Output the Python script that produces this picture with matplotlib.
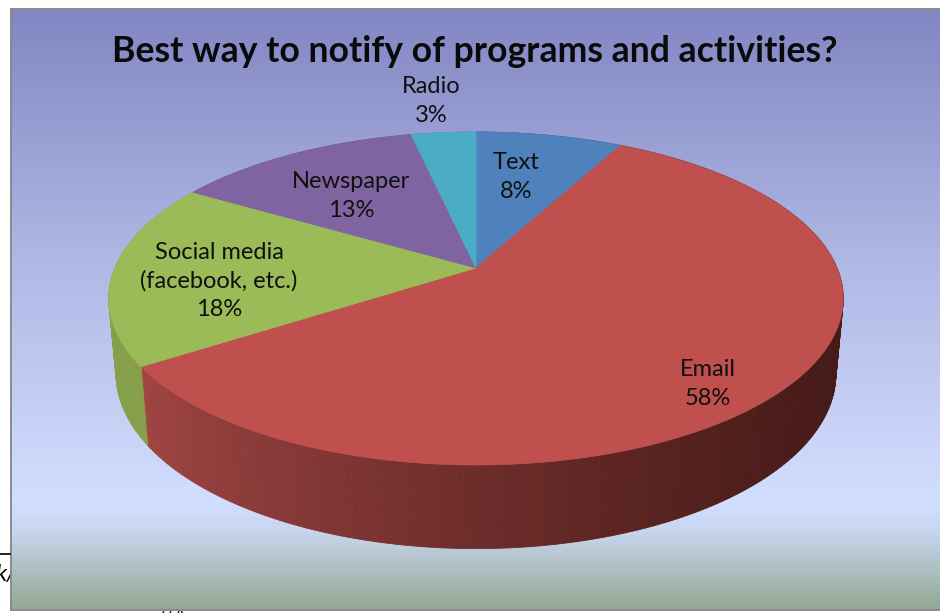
import numpy as np
import matplotlib
matplotlib.use("Agg")
import matplotlib.pyplot as plt
from matplotlib.colors import LinearSegmentedColormap, to_rgb
from matplotlib.patches import Polygon, Rectangle

# data
categories = ["Text", "Email", "Social media\n(facebook, etc.)", "Newspaper", "Radio"]
values = [7.7, 58.0, 17.9, 13.0, 3.4]
title_text = "Best way to notify of programs and activities?"

plt.rcParams['font.family'] = ['Lato', 'DejaVu Sans']

top_colors = ["#4F81BD", "#C0504D", "#9BBB59", "#8064A2", "#4BACC6"]
wall_left = ["#3d6592", "#a04543", "#86a04a", "#6a5387", "#3c8ea4"]
wall_right = ["#2f4f73", "#451a17", "#86a04a", "#6a5387", "#3c8ea4"]
label_pos = [(516, 177), (708, 384), (219, 281), (351, 196), (431, 101)]

W, H = 940, 613
fig = plt.figure(figsize=(W / 100, H / 100), dpi=100, facecolor="white")
ax = fig.add_axes([0, 0, 1, 1])
ax.set_xlim(0, W)
ax.set_ylim(H, 0)
ax.axis("off")

# background gradient of the chart area
bg = LinearSegmentedColormap.from_list(
    "bg", [(0, "#8286c3"), (0.42, "#b0b8e4"), (0.82, "#d2deff"),
           (0.87, "#c8d6f0"), (1, "#94a994")])
frame_l, frame_t, frame_r, frame_b = 11, 9, 941, 610
ax.imshow(np.linspace(0, 1, 300).reshape(-1, 1), cmap=bg, aspect="auto",
          extent=(frame_l, frame_r, frame_b, frame_t), zorder=1)
ax.add_patch(Rectangle((frame_l, frame_t), frame_r - frame_l, frame_b - frame_t,
                       fill=False, ec="#8a8a8a", lw=1.4, zorder=2))
ax.set_xlim(0, W)
ax.set_ylim(H, 0)

# scraps of the page behind the screenshot
ax.plot([0, 10], [554, 554], color="black", lw=1.2, zorder=2)
ax.text(-5, 575, "k/", style="italic", fontsize=17, va="center", ha="left", zorder=0)
ax.text(155, 619, "///\\", style="italic", fontsize=14, va="center", ha="left", zorder=0)

apex = (476, 268)


def top_face(theta):
    # circle in perspective, apex of the pie is not the ellipse centre
    u, v = np.sin(theta), -np.cos(theta)
    d = 1 - 0.1832 * v
    return 476 + 361 * u / d, (111.8 * v + 268) / d


def bottom_face(x, y):
    return 476 + (x - 476) * 0.98, y * 1.05 + 60.4


fracs = np.array(values) / sum(values)
edges = np.concatenate([[0], np.cumsum(fracs)]) * 2 * np.pi

# side walls first, top faces go over them
for i in range(len(values)):
    th = np.linspace(edges[i], edges[i + 1], int(fracs[i] * 360) + 2)
    c_l = np.array(to_rgb(wall_left[i]))
    c_r = np.array(to_rgb(wall_right[i]))
    xs, ys = top_face(th)
    bx, by = bottom_face(xs, ys)
    for k in range(len(th) - 1):
        t = np.clip((xs[k] - 142) / (840 - 142), 0, 1)
        col = c_l + (c_r - c_l) * t ** 0.8
        ax.add_patch(Polygon([(xs[k], ys[k]), (xs[k + 1], ys[k + 1]),
                              (bx[k + 1], by[k + 1]), (bx[k], by[k])],
                             fc=col, ec=col, lw=0.6, zorder=3))

for i in range(len(values)):
    th = np.linspace(edges[i], edges[i + 1], int(fracs[i] * 360) + 2)
    xs, ys = top_face(th)
    pts = np.column_stack([[apex[0], *xs], [apex[1], *ys]])
    ax.add_patch(Polygon(pts, fc=top_colors[i], ec=top_colors[i], lw=0.5, zorder=4))

for name, val, (lx, ly) in zip(categories, values, label_pos):
    ax.text(lx, ly, f"{name}\n{round(val)}%", ha="center", va="center", fontsize=17,
            color="#101010", linespacing=1.42, zorder=5)

ax.text(475, 52, title_text, ha="center", va="center", fontsize=25.7,
        fontweight="bold", color="#0a0a0a", zorder=5)

fig.savefig("out.png", dpi=100)
